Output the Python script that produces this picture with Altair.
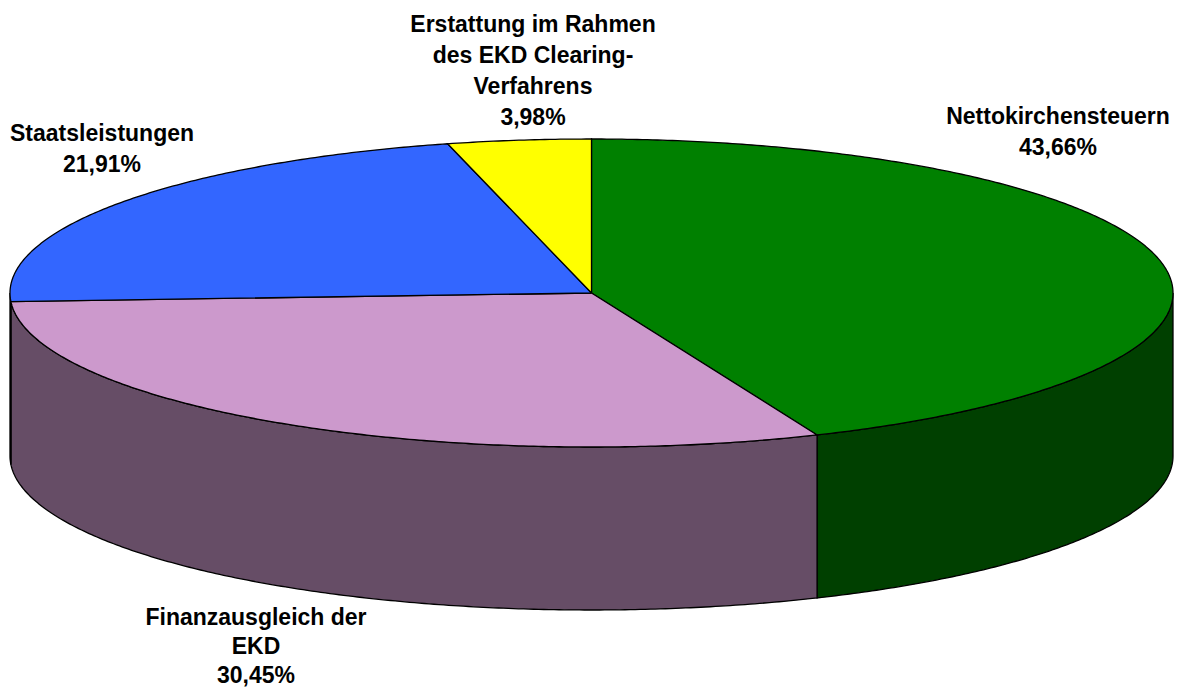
import math
import altair as alt
import pandas as pd

# Shares in percent, clockwise from twelve o'clock
names = ["Nettokirchensteuern", "Finanzausgleich der EKD", "Staatsleistungen", "Erstattung im Rahmen des EKD Clearing-Verfahrens"]
shares = [43.66, 30.45, 21.91, 3.98]
top_colors = ["#008000", "#CC99CC", "#3366FF", "#FFFF00"]
side_colors = ["#004000", "#664D66", "#1A3380", "#808000"]

# Label text, line by line
label_lines = [
    ["Nettokirchensteuern", "43,66%"],
    ["Finanzausgleich der", "EKD", "30,45%"],
    ["Staatsleistungen", "21,91%"],
    ["Erstattung im Rahmen", "des EKD Clearing-", "Verfahrens", "3,98%"],
]
# Centre x and first-line y of each label in the chart's coordinate system
label_anchor = [(1058, 117), (256, 618), (102, 134), (533, 25)]
LINE_STEP = [31, 29, 31, 31]

CX, CY, RX, RY, DEPTH = 591.5, 293, 581.5, 154, 163


def rim(t, drop=0):
    a = math.radians(t)
    return CX + RX * math.sin(a), CY - RY * math.cos(a) + drop


def steps(a, b):
    n = max(2, int(abs(b - a) * 2))
    return [a + (b - a) * i / n for i in range(n + 1)]


xs = alt.X("x:Q", scale=alt.Scale(domain=[8, 1174], nice=False, zero=False), axis=None)
ys = alt.Y("y:Q", scale=alt.Scale(domain=[690, 8], nice=False, zero=False), axis=None)


def poly(points, fill):
    df = pd.DataFrame({"x": [p[0] for p in points], "y": [p[1] for p in points], "i": range(len(points))})
    return alt.Chart(df).mark_line(fill=fill, stroke="#000000", strokeWidth=1.3, clip=False, interpolate="linear").encode(
        x=xs, y=ys, order="i:Q"
    )


layers = []
edges = []
acc = 0
for s in shares:
    edges.append((acc * 3.6, (acc + s) * 3.6))
    acc += s

# Side wall: only the front half of the rim (90° to 270°) is visible
for (a, b), col in zip(edges, side_colors):
    lo, hi = max(a, 90), min(b, 270)
    if lo < hi:
        up = [rim(t) for t in steps(lo, hi)]
        down = [rim(t, DEPTH) for t in steps(hi, lo)]
        pts = up + down + [up[0]]
        layers.append(poly(pts, col))

# Top face
for (a, b), col in zip(edges, top_colors):
    pts = [(CX, CY)] + [rim(t) for t in steps(a, b)] + [(CX, CY)]
    layers.append(poly(pts, col))

rows = []
for lines, (lx, ly), step in zip(label_lines, label_anchor, LINE_STEP):
    for k, line in enumerate(lines):
        rows.append({"x": lx, "y": ly + k * step, "text": line})
labels = alt.Chart(pd.DataFrame(rows)).mark_text(
    font="Liberation Sans", fontWeight="bold", fontSize=23, color="#000000", align="center", baseline="middle", clip=False
).encode(x=xs, y=ys, text="text:N")
layers.append(labels)

chart = alt.layer(*layers).properties(
    width=1166, height=682, padding=0, autosize=alt.AutoSizeParams(type="none")
).configure_view(stroke=None)
chart.save("out.html", embed_options={"renderer": "svg", "actions": False})
